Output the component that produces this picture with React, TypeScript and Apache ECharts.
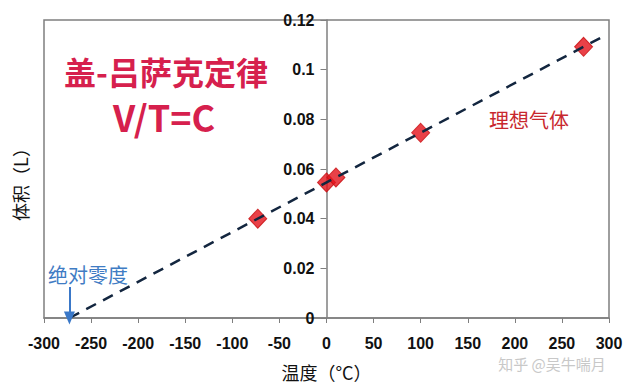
import React, { useEffect, useRef } from "react";
import * as echarts from "echarts";

const xTicks = [-300, -250, -200, -150, -100, -50, 0, 50, 100, 150, 200, 250, 300];
const yTicks = [0, 0.02, 0.04, 0.06, 0.08, 0.1, 0.12];
const tempC = [-73, 0, 10, 100, 273];
const volumeL = [0.04, 0.0546, 0.0566, 0.0746, 0.1092];
const fitX = [-273, 295];
const fitY = [0, 0.1136];
const zeroArrowX = -273;
const zeroArrowY = [0.0125, 0];

const CJK = '"Noto Sans CJK SC", "Noto Sans", sans-serif';
const LAT = '"Liberation Sans", Arial, sans-serif';

const GRID_LEFT = 44;
const GRID_RIGHT = 31;
const PLOT_W = 640 - GRID_LEFT - GRID_RIGHT;

export default function App() {
  const ref = useRef<HTMLDivElement>(null);
  useEffect(() => {
    if (!ref.current) return;
    const chart = echarts.init(ref.current, null, { renderer: "svg" });
    const xMin = xTicks[0];
    const xMax = xTicks[xTicks.length - 1];
    const zeroOffset = ((0 - xMin) / (xMax - xMin)) * PLOT_W;
    chart.setOption({
      animation: false,
      backgroundColor: "#ffffff",
      grid: {
        left: GRID_LEFT,
        right: GRID_RIGHT,
        top: 20,
        bottom: 68,
        show: true,
        borderColor: "#7f7f7f",
        borderWidth: 1.5,
        containLabel: false,
      },
      xAxis: {
        type: "value",
        min: xMin,
        max: xMax,
        interval: 50,
        name: "温度（°C）",
        nameLocation: "middle",
        nameGap: 45,
        nameTextStyle: { fontFamily: CJK, fontSize: 18, color: "#111" },
        axisLine: { show: true, onZero: false, lineStyle: { color: "#7f7f7f", width: 1.5 } },
        axisTick: { show: true, inside: false, length: 5, lineStyle: { color: "#7f7f7f" } },
        axisLabel: { fontFamily: LAT, fontWeight: "bold", fontSize: 16, color: "#111", margin: 17 },
        splitLine: { show: false },
      },
      yAxis: {
        type: "value",
        min: yTicks[0],
        max: yTicks[yTicks.length - 1],
        interval: 0.02,
        offset: -zeroOffset,
        axisLine: { show: true, onZero: false, lineStyle: { color: "#7f7f7f", width: 1.5 } },
        axisTick: { show: true, inside: false, length: 6, lineStyle: { color: "#7f7f7f" } },
        axisLabel: {
          fontFamily: LAT,
          fontWeight: "bold",
          fontSize: 16,
          color: "#111",
          margin: 12,
          formatter: (v: number) => String(Math.round(v * 100) / 100),
        },
        splitLine: { show: false },
      },
      series: [
        {
          type: "scatter",
          data: tempC.map((t, i) => [t, volumeL[i]]),
          symbol: "diamond",
          symbolSize: [18, 19],
          itemStyle: { color: "#e3121a", borderColor: "#c80e10", borderWidth: 1 },
          z: 2,
        },
        {
          type: "line",
          data: fitX.map((t, i) => [t, fitY[i]]),
          showSymbol: false,
          symbol: "none",
          lineStyle: { color: "#13263f", width: 2.5, type: [11, 8] },
          z: 3,
          markLine: {
            silent: true,
            symbol: ["none", "triangle"],
            symbolSize: [11, 13],
            label: { show: false },
            lineStyle: { color: "#3a78c8", width: 2, type: "solid" },
            data: [[{ coord: [zeroArrowX, zeroArrowY[0]] }, { coord: [zeroArrowX, zeroArrowY[1]] }]],
          },
        },
      ],
      graphic: [
        {
          type: "text",
          x: 166,
          y: 71,
          style: {
            text: "盖-吕萨克定律",
            fontFamily: CJK,
            fontSize: 32,
            fontWeight: "bold",
            fill: "#d6204d",
            align: "center",
            verticalAlign: "middle",
          },
        },
        {
          type: "text",
          x: 164,
          y: 116,
          style: {
            text: "V/T=C",
            fontFamily: CJK,
            fontSize: 36,
            fontWeight: "bold",
            fill: "#d6204d",
            align: "center",
            verticalAlign: "middle",
          },
        },
        {
          type: "text",
          x: 529,
          y: 119,
          style: {
            text: "理想气体",
            fontFamily: CJK,
            fontSize: 20,
            fill: "#c8282e",
            align: "center",
            verticalAlign: "middle",
          },
        },
        {
          type: "text",
          x: 88,
          y: 274,
          style: {
            text: "绝对零度",
            fontFamily: CJK,
            fontSize: 20,
            fill: "#3f7cc4",
            align: "center",
            verticalAlign: "middle",
          },
        },
        {
          type: "text",
          x: 20,
          y: 180,
          rotation: Math.PI / 2,
          style: {
            text: "体积（L）",
            fontFamily: CJK,
            fontSize: 18,
            fill: "#111",
            align: "center",
            verticalAlign: "middle",
          },
        },
        {
          type: "text",
          x: 552,
          y: 363,
          style: {
            text: "知乎 @吴牛喘月",
            fontFamily: CJK,
            fontSize: 15,
            fill: "#c8c8c8",
            align: "center",
            verticalAlign: "middle",
          },
        },
      ],
    });
    return () => chart.dispose();
  }, []);
  return <div ref={ref} style={{ width: 640, height: 386, position: "fixed", left: 0, top: 0 }} />;
}
